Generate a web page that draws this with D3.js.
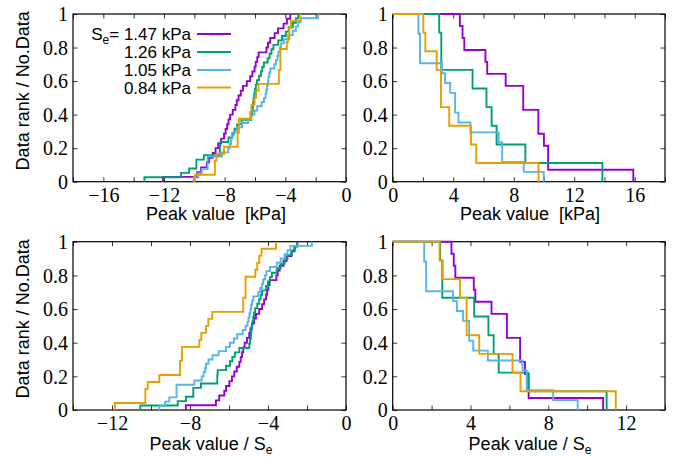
<!DOCTYPE html>
<html lang="en">
<head>
<meta charset="UTF-8">
<title>Peak value rank plots</title>
<script src="https://cdn.jsdelivr.net/npm/d3@7/dist/d3.min.js"></script>
<style>
  body { margin: 0; background: #fff; }
  svg { display: block; }
</style>
</head>
<body>
<svg id="chart" width="677" height="457"></svg>
<script>
// Se of each series [kPa] and legend text
const seValues = [1.47, 1.26, 1.05, 0.84];
const seLabels = ["1.47 kPa", "1.26 kPa", "1.05 kPa", "0.84 kPa"];
const colors = ["#9400d3", "#009e73", "#56b4e9", "#e69f00"];

// negative peaks divided by Se
const negPurple = [-8.21, -6.67, -6.50, -6.24, -6.15, -5.98, -5.85, -5.73, -5.60, -5.47, -5.40, -5.33, -5.27, -5.20,
  -5.08, -4.96, -4.90, -4.82, -4.72, -4.62, -4.45, -4.30, -4.20, -4.10, -4.05, -3.98, -3.92, -3.57, -3.50, -3.40,
  -3.20, -3.05, -2.80, -2.65, -2.50];
const negGreen = [-10.55, -8.63, -8.21, -7.83, -7.83, -7.44, -6.60, -6.60, -6.58, -6.15, -5.95, -5.83, -5.70, -5.47,
  -4.96, -4.92, -4.88, -4.86, -4.84, -4.80, -4.76, -4.72, -4.66, -4.55, -4.45, -4.38, -4.30, -4.10, -4.00, -3.90,
  -3.80, -3.55, -3.35, -3.15, -3.00, -2.78, -2.62, -2.50];
const negBlue = [-9.57, -9.27, -9.06, -8.69, -8.69, -8.69, -7.78, -7.40, -7.30, -7.22, -7.18, -7.05, -6.85, -6.53,
  -6.15, -5.95, -5.75, -5.58, -5.30, -5.15, -5.05, -5.00, -4.95, -4.90, -4.87, -4.82, -4.75, -4.50, -4.40, -4.30,
  -4.25, -4.15, -4.08, -3.90, -3.55, -3.35, -3.15, -3.00, -2.85, -1.75];
const negOrange = [-11.85, -10.29, -10.29, -10.17, -9.57, -8.51, -8.51, -8.41, -8.41, -7.52, -7.42, -7.18, -7.06,
  -6.86, -5.27, -5.27, -5.15, -5.15, -5.15, -4.65, -4.55, -4.45, -4.33, -3.59];

// positive peaks divided by Se
const posPurple = [3.02, 3.14, 3.22, 4.17, 4.25, 5.08, 5.87, 5.87, 6.55, 6.55, 6.80, 6.99, 6.99, 10.82];
const posGreen = [2.44, 2.55, 2.55, 4.19, 4.92, 5.19, 5.45, 6.96, 11.0];
const posBlue = [1.62, 1.62, 1.72, 1.72, 1.72, 3.10, 3.30, 3.62, 3.93, 3.93, 4.14, 4.89, 6.67, 6.89, 6.89, 8.25, 9.51];
const posOrange = [2.41, 2.57, 3.46, 3.80, 3.80, 4.45, 6.16, 6.57, 11.47];

const yTicks = [0, 0.2, 0.4, 0.6, 0.8, 1];

const negSets = [negPurple, negGreen, negBlue, negOrange];
const posSets = [posPurple, posGreen, posBlue, posOrange];

const panels = [
  {left: 73, right: 346, top: 14, bottom: 181.7, xDomain: [-18, 0], xLabels: [-16, -12, -8, -4, 0],
   sets: negSets, kPa: true, rising: true, titleX: 216, titleY: 220, yTitle: true, legend: true},
  {left: 392.7, right: 665, top: 14, bottom: 181.7, xDomain: [0, 18], xLabels: [0, 4, 8, 12, 16],
   sets: posSets, kPa: true, rising: false, titleX: 530, titleY: 220},
  {left: 73, right: 346, top: 241.7, bottom: 410, xDomain: [-14, 0], xLabels: [-12, -8, -4, 0],
   sets: negSets, kPa: false, rising: true, titleX: 211, titleY: 450, yTitle: true},
  {left: 392.7, right: 665, top: 241.7, bottom: 410, xDomain: [0, 14], xLabels: [0, 4, 8, 12],
   sets: posSets, kPa: false, rising: false, titleX: 530, titleY: 450}
];

const svg = d3.select("#chart");
const serif = "'Liberation Serif', 'Times New Roman', serif";
const sans = "'Liberation Sans', Arial, Helvetica, sans-serif";
const fmtX = d3.format("d");
const fmtY = d3.format("~g");

// rank / N step points
function rankPoints(vals, se, rising) {
  const v = vals.map(d => d * se).sort(d3.ascending);
  const n = v.length;
  if (rising) return [[v[0], 0]].concat(v.map((d, i) => [d, (i + 1) / n]));
  return [[0, 1]].concat(v.map((d, i) => [d, 1 - (i + 1) / n]));
}

panels.forEach(p => {
  const x = d3.scaleLinear().domain(p.xDomain).range([p.left, p.right]);
  const y = d3.scaleLinear().domain([0, 1]).range([p.bottom, p.top]);
  const g = svg.append("g");
  const xt = d3.range(p.xDomain[0], p.xDomain[1] + 0.001, 2);

  const bottomAxis = g.append("g").attr("transform", `translate(0,${p.bottom})`)
    .call(d3.axisBottom(x).tickValues(xt).tickSize(-4.5)
      .tickFormat(d => p.xLabels.includes(d) ? fmtX(d) : ""));
  bottomAxis.selectAll("text").attr("y", 20).attr("dy", 0);
  g.append("g").attr("transform", `translate(0,${p.top})`)
    .call(d3.axisTop(x).tickValues(xt).tickSize(-4.5).tickFormat(""));

  const leftAxis = g.append("g").attr("transform", `translate(${p.left},0)`)
    .call(d3.axisLeft(y).tickValues(yTicks).tickSize(-4.5).tickFormat(fmtY));
  leftAxis.selectAll("text").attr("x", -5).attr("dy", "0.34em");
  g.append("g").attr("transform", `translate(${p.right},0)`)
    .call(d3.axisRight(y).tickValues(yTicks).tickSize(-4.5).tickFormat(""));

  g.selectAll(".domain").remove();
  g.selectAll(".tick line").attr("stroke", "#333");
  g.selectAll(".tick text").attr("fill", "#000")
    .style("font-family", serif).style("font-size", "20px");

  g.append("rect")
    .attr("x", p.left).attr("y", p.top)
    .attr("width", p.right - p.left).attr("height", p.bottom - p.top)
    .attr("fill", "none").attr("stroke", "#000").attr("stroke-width", 1.2);

  const line = d3.line().curve(d3.curveStepAfter).x(d => x(d[0])).y(d => y(d[1]));
  p.sets.forEach((vals, i) => {
    g.append("path")
      .datum(rankPoints(vals, p.kPa ? seValues[i] : 1, p.rising))
      .attr("d", line)
      .attr("fill", "none")
      .attr("stroke", colors[i])
      .attr("stroke-width", 1.9);
  });

  const title = g.append("text")
    .attr("x", p.titleX).attr("y", p.titleY)
    .attr("text-anchor", "middle")
    .style("font-family", sans).style("font-size", "18px");
  if (p.kPa) {
    title.text("Peak value\u00a0\u00a0[kPa]");
  } else {
    title.append("tspan").text("Peak value / S");
    title.append("tspan").attr("dy", 4).style("font-size", "12px").text("e");
  }

  if (p.yTitle) {
    g.append("text")
      .attr("transform", `translate(29,${(p.top + p.bottom) / 2 - 7}) rotate(-90)`)
      .attr("text-anchor", "middle")
      .style("font-family", sans).style("font-size", "18px")
      .text("Data rank / No.Data");
  }

  if (p.legend) {
    const rowY = [34, 52, 70, 87.5];
    seLabels.forEach((lab, i) => {
      const t = g.append("text")
        .attr("x", 191).attr("y", rowY[i]).attr("dy", "0.36em")
        .attr("text-anchor", "end")
        .style("font-family", sans).style("font-size", "17px");
      if (i === 0) {
        t.append("tspan").text("S");
        t.append("tspan").attr("dy", 4).style("font-size", "12px").text("e");
        t.append("tspan").attr("dy", -4).text("= " + lab);
      } else {
        t.text(lab);
      }
      g.append("line")
        .attr("x1", 197).attr("x2", 231)
        .attr("y1", rowY[i]).attr("y2", rowY[i])
        .attr("stroke", colors[i]).attr("stroke-width", 1.9);
    });
  }
});
</script>
</body>
</html>
